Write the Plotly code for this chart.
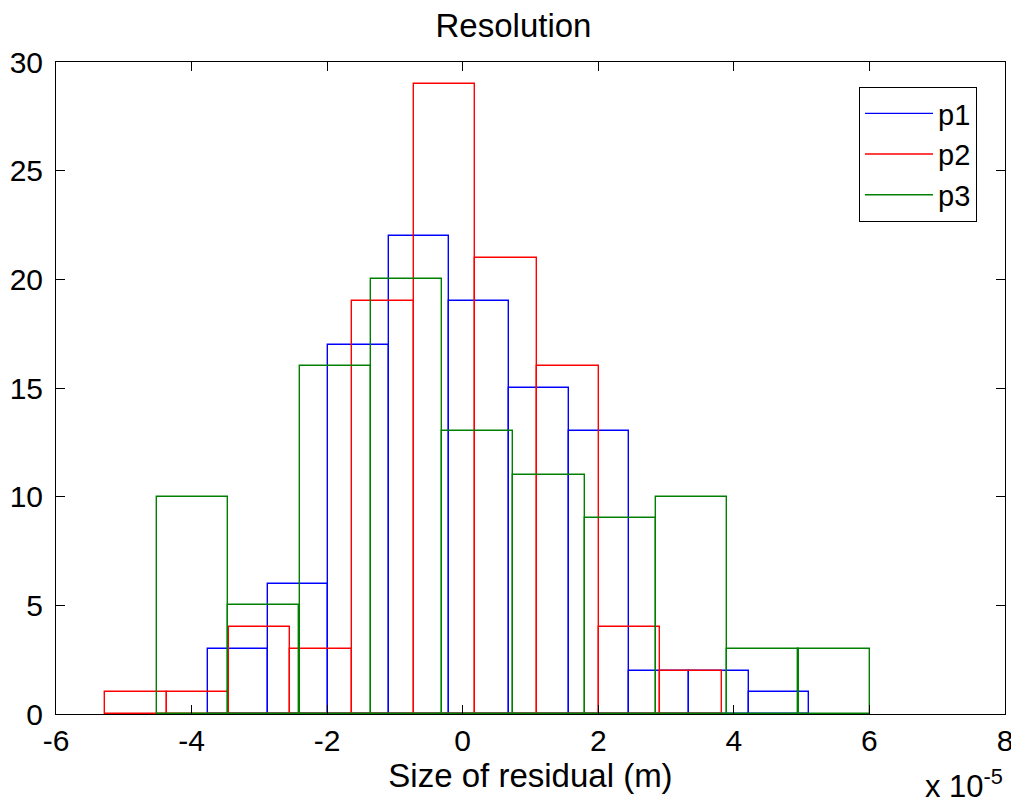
import plotly.graph_objects as go

# Histogram data (x in units of 1e-5 m)
p1_centers = [-3.311, -2.424, -1.537, -0.650, 0.237, 1.124, 2.011, 2.898, 3.785, 4.672]
p1_counts = [3, 6, 17, 22, 19, 15, 13, 2, 2, 1]
p1_width = 0.887

p2_centers = [-4.818, -3.909, -2.999, -2.090, -1.180, -0.270, 0.640, 1.549, 2.459, 3.369]
p2_counts = [1, 1, 4, 3, 19, 29, 21, 16, 4, 2]
p2_width = 0.9096

p3_centers = [-3.985, -2.934, -1.882, -0.830, 0.221, 1.273, 2.324, 3.376, 4.428, 5.479]
p3_counts = [10, 5, 16, 20, 13, 11, 9, 10, 3, 3]
p3_width = 1.0516

series_names = ["p1", "p2", "p3"]
series_colors = ["#0000ff", "#ff0000", "#008000"]

x_ticks = [-6, -4, -2, 0, 2, 4, 6, 8]
x_tick_labels = ["-6", "-4", "-2", "0", "2", "4", "6", "8"]
y_ticks = [0, 5, 10, 15, 20, 25, 30]
y_tick_labels = ["0", "5", "10", "15", "20", "25", "30"]

FONT = "Liberation Sans, Arial, sans-serif"

# page body has an 8px margin: figure is 1011x799 so it fills the 1019x807 window
W, H = 1011, 799
PLOT_H = 652

fig = go.Figure()
series = [(p1_centers, p1_counts, p1_width), (p2_centers, p2_counts, p2_width), (p3_centers, p3_counts, p3_width)]
for (cx, cnt, w), name, col in zip(series, series_names, series_colors):
    fig.add_trace(go.Bar(
        x=cx, y=cnt, width=[w] * len(cx), name=name,
        marker=dict(color="rgba(0,0,0,0)", line=dict(color=col, width=1.4)),
        showlegend=False, legendgroup=name,
    ))
for name, col in zip(series_names, series_colors):
    fig.add_trace(go.Scatter(
        x=[None], y=[None], mode="lines", name=name, legendgroup=name,
        line=dict(color=col, width=1.4),
    ))

axis_common = dict(
    showgrid=False, zeroline=False, showline=True, linecolor="black", linewidth=1,
    mirror="ticks", ticks="inside", ticklen=9, tickwidth=1, tickcolor="black",
    tickfont=dict(family=FONT, size=30, color="black"), automargin=False,
)

fig.update_layout(
    width=W, height=H,
    margin=dict(l=48, r=14, t=54, b=93),
    paper_bgcolor="white", plot_bgcolor="white",
    barmode="overlay", bargap=0,
    title=dict(text="Resolution", x=0.5, xanchor="center", y=1 - 17 / H, yanchor="middle",
               font=dict(family=FONT, size=33, color="black")),
    xaxis=dict(range=[-6, 8], tickvals=x_ticks, ticktext=x_tick_labels, ticklabelstandoff=0,
               title=dict(text="Size of residual (m)", font=dict(family=FONT, size=33, color="black"), standoff=1),
               **axis_common),
    yaxis=dict(range=[0, 30], tickvals=y_ticks, ticktext=y_tick_labels, ticklabelstandoff=6, **axis_common),
    legend=dict(x=0.9705, y=1 - (87 - 62) / PLOT_H, xanchor="right", yanchor="top",
                bordercolor="black", borderwidth=1, bgcolor="white",
                font=dict(family=FONT, size=29, color="black"),
                itemwidth=68, tracegroupgap=0),
    annotations=[dict(text="x 10<sup>-5</sup>", xref="paper", yref="paper", x=1.0, y=-(784 - 714) / PLOT_H,
                      xanchor="right", yanchor="middle", showarrow=False,
                      font=dict(family=FONT, size=31, color="black"))],
)

fig.write_html("out.html")
